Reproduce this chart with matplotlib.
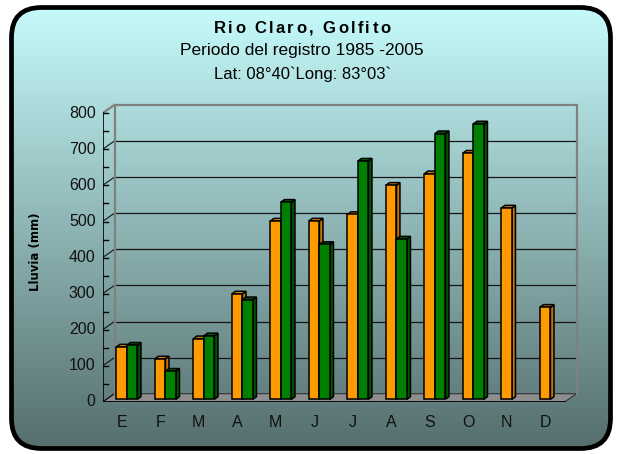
import matplotlib
matplotlib.use("Agg")
import matplotlib.pyplot as plt
import numpy as np
from matplotlib.patches import Polygon, FancyBboxPatch
from matplotlib.font_manager import FontProperties

# monthly rainfall, two series
meses = ["E", "F", "M", "A", "M", "J", "J", "A", "S", "O", "N", "D"]
serie_naranja = [145, 112, 168, 292, 494, 494, 512, 593, 625, 682, 530, 255]
serie_verde = [150, 78, 176, 276, 546, 429, 660, 444, 736, 763, np.nan, np.nan]
yticks = [0, 100, 200, 300, 400, 500, 600, 700, 800]

titulo = "Rio Claro, Golfito"
subtitulo = "Periodo del registro 1985 -2005"
coords = "Lat: 08°40`Long: 83°03`"
ylabel = "Lluvia (mm)"

W, H, DPI = 618, 454, 100
fig = plt.figure(figsize=(W / DPI, H / DPI), dpi=DPI)
fig.patch.set_facecolor("white")

# ---- background panel with vertical gradient and rounded black frame
bg = fig.add_axes([0, 0, 1, 1])
bg.set_xlim(0, W)
bg.set_ylim(0, H)
bg.axis("off")
top_c = np.array([198, 251, 251]) / 255
bot_c = np.array([86, 110, 110]) / 255
t = np.linspace(0, 1, 256)[:, None]
grad = (bot_c * (1 - t) + top_c * t)[:, None, :]
grad = np.repeat(grad, 2, axis=1)
frame = FancyBboxPatch((11.5, 5.5), 599, 441, boxstyle="round,pad=0,rounding_size=30",
                       facecolor="none", edgecolor="black", lw=3.4, zorder=3)
bg.add_patch(frame)
im = bg.imshow(grad, extent=(11.5, 610.5, 5.5, 446.5), origin="lower", aspect="auto",
               interpolation="bilinear", zorder=1)
im.set_clip_path(frame)

# ---- main chart, front plane in data units
PXX = 38.5   # px per category
PXY = 0.361  # px per mm
L_px, B_px = 102.5, 402
R_px, T_px = 585, 98
ax = fig.add_axes([L_px / W, (H - B_px) / H, (R_px - L_px) / W, (B_px - T_px) / H])
ax.set_xlim(0, (R_px - L_px) / PXX)
ax.set_ylim(0, (B_px - T_px) / PXY)
ax.axis("off")
ax.patch.set_alpha(0)

n = len(meses)
DX, DY = 12.0 / PXX, 8.3 / PXY        # depth of the 3d box
ymax = yticks[-1]

# floor
ax.add_patch(Polygon([(0, 0), (n, 0), (n + DX, DY), (DX, DY)], closed=True,
                     facecolor="#8e8e8e", edgecolor="#333333", lw=0.8, zorder=2))

# back wall gridlines and side diagonals
for v in yticks[1:-1]:
    ax.plot([DX, n + DX], [v + DY, v + DY], color="#151515", lw=0.9, zorder=2)
for v in yticks[:-1]:
    ax.plot([0, DX], [v, v + DY], color="#151515", lw=0.8, zorder=2)
wall = "#808080"
ax.plot([DX, DX, n + DX, n + DX], [DY, ymax + DY, ymax + DY, DY], color=wall, lw=1.6, zorder=2,
        solid_joinstyle="miter")
ax.plot([0, DX], [ymax, ymax + DY], color=wall, lw=1.6, zorder=2)

# y axis with major/minor ticks
ax.plot([0, 0], [0, ymax], color="black", lw=1.2, zorder=4)
for v in yticks:
    ax.plot([-6 / PXX, 5 / PXX], [v, v], color="black", lw=1.0, zorder=4)
    ax.text(-7 / PXX, v, str(v), ha="right", va="center", fontsize=11.5,
            family="Liberation Sans", color="#111111")
for v in np.arange(50, ymax, 100):
    ax.plot([0, 5 / PXX], [v, v], color="black", lw=1.0, zorder=4)

# x axis
ax.plot([0, n], [0, 0], color="black", lw=1.2, zorder=4)
for i in range(n + 1):
    ax.plot([i, i], [0, -5 / PXY], color="black", lw=1.0, zorder=4)
for i, m in enumerate(meses):
    ax.text(i + 0.5, -20.5 / PXY, m, ha="center", va="center", fontsize=11.5,
            family="Liberation Sans", color="#111111")


# bars as small prisms
def barra(x0, val, front, side, top):
    if np.isnan(val):
        return
    fx, fy = 0.33 * DX, 2.7 / PXY
    w = 10.5 / PXX
    bdx, bdy = 3.5 / PXX, 2.6 / PXY
    xa, xb = x0 + fx, x0 + fx + w
    y0, y1 = fy, fy + val
    kw = dict(closed=True, edgecolor="black", lw=1.1, joinstyle="miter", zorder=5)
    ax.add_patch(Polygon([(xb, y0), (xb + bdx, y0 + bdy), (xb + bdx, y1 + bdy), (xb, y1)],
                         facecolor=side, **kw))
    ax.add_patch(Polygon([(xa, y1), (xb, y1), (xb + bdx, y1 + bdy), (xa + bdx, y1 + bdy)],
                         facecolor=top, **kw))
    ax.add_patch(Polygon([(xa, y0), (xb, y0), (xb, y1), (xa, y1)], facecolor=front, **kw))


for i in range(n):
    barra(i + 10.0 / PXX, serie_naranja[i], "#ff9a00", "#c87400", "#d98300")
    barra(i + 20.5 / PXX, serie_verde[i], "#008000", "#005500", "#006400")


# title drawn letter by letter to get the wide tracking
def texto_espaciado(s, xc, yc, extra, **kw):
    prop = FontProperties(family=kw.get("family"), weight=kw.get("fontweight"),
                          size=kw.get("fontsize"))
    rend = fig.canvas.get_renderer()

    def ancho(txt):
        return rend.get_text_width_height_descent(txt, prop, ismath=False)[0]

    guard = ancho("||")
    pos = [ancho("|" + s[:k] + "|") - guard for k in range(len(s) + 1)]
    total = pos[-1] + extra * (len(s) - 1)
    x = xc - total / 2
    for k, ch in enumerate(s):
        if ch != " ":
            fig.text((x + pos[k] + extra * k) / W, yc, ch, ha="left", va="center", **kw)


texto_espaciado(titulo, 302, 1 - 28.7 / H, 2.4, fontsize=12, fontweight="bold",
                family="Liberation Sans")
fig.text(302 / W, 1 - 50.5 / H, subtitulo, ha="center", va="center", fontsize=12.5,
         family="Liberation Sans")
fig.text(303 / W, 1 - 74.5 / H, coords, ha="center", va="center", fontsize=12,
         family="Liberation Sans")
fig.text(35 / W, 1 - 252 / H, ylabel, ha="center", va="center", rotation=90,
         fontsize=8.5, fontweight="bold", family="DejaVu Sans")

fig.savefig("out.png", dpi=DPI)
